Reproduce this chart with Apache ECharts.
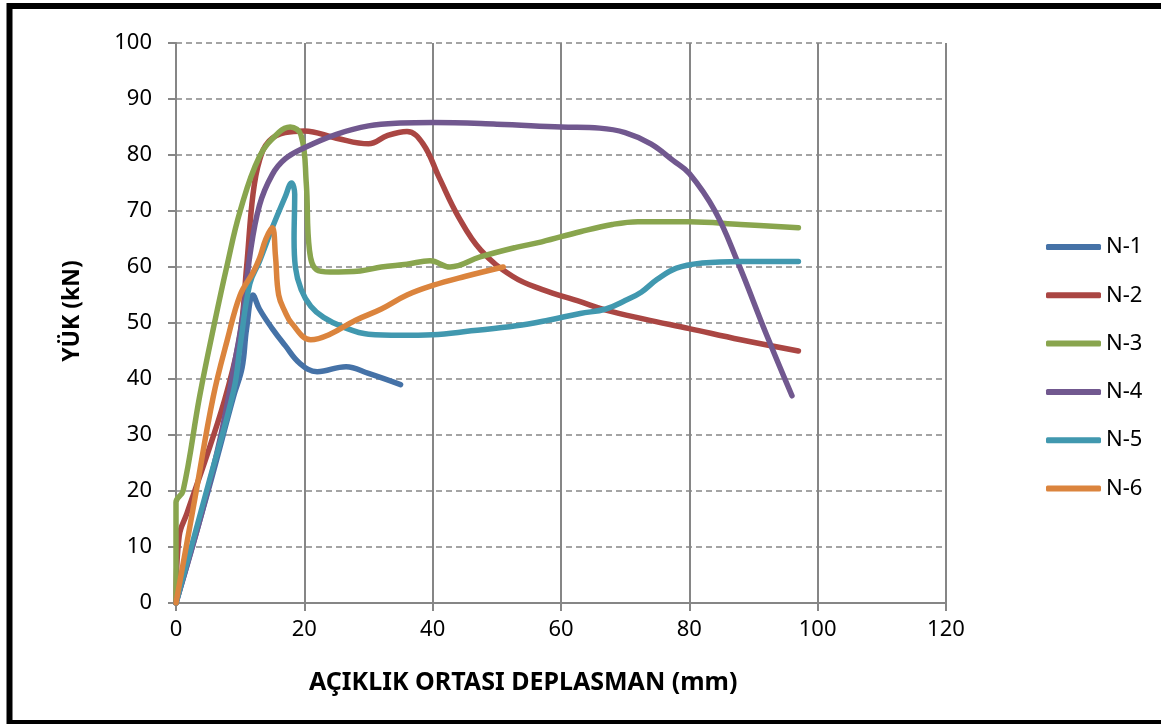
<!DOCTYPE html>
<html>
<head>
<meta charset="utf-8">
<script src="https://cdn.jsdelivr.net/npm/echarts@6/dist/echarts.min.js"></script>
<style>
html,body{margin:0;padding:0;background:#fff;}
#chart{width:1161px;height:724px;}
</style>
</head>
<body>
<div id="chart"></div>
<script>
var seriesNames = ['N-1', 'N-2', 'N-3', 'N-4', 'N-5', 'N-6'];
var xTicks = [0, 20, 40, 60, 80, 100, 120];
var yTicks = [0, 10, 20, 30, 40, 50, 60, 70, 80, 90, 100];

// [deplasman mm, yuk kN]
var n1 = [[0,0],[5,20],[9,37],[10.3,42],[11,49],[12,55],[13,52.5],[15,49],[17,46],[19.3,42.8],[22,41.3],[26.5,42.2],[30,41],[35,39]];
var n2 = [[0,0],[0.5,12],[1.7,16],[5.3,28],[8,38],[10,48],[11,60],[12,73],[13,79],[14.5,82.5],[17,84],[20,84.3],[25,83],[30,82],[33,83.5],[36,84.2],[38.5,82],[41,76],[44,69],[47.5,63],[52.5,58.3],[57,56],[63,53.8],[67,52.3],[73,50.7],[80,49],[88,47],[97,45]];
var n3 = [[0,0],[0,18],[1.1,20],[3.7,37],[6,50],[7.9,60],[10,70],[13,79.7],[16,84],[17.8,85],[19.5,83.5],[20.3,75],[20.8,63],[21.9,59.5],[24,59.1],[28.7,59.3],[32,60],[36,60.5],[39.6,61.1],[42.7,60],[47.4,61.8],[53,63.5],[57,64.5],[63,66.3],[68,67.6],[72,68.1],[80,68.1],[88,67.6],[97,67]];
var n4 = [[0,0],[4,16],[7,30],[9,42],[10.5,52],[11.5,62],[13,71],[15,76.5],[17,79.3],[20,81.3],[25,83.7],[30,85.2],[35,85.7],[40,85.8],[50,85.5],[60,85],[66,84.8],[70,84],[74,82],[77.5,79],[80,76.7],[84,70],[87.5,61],[92,48],[96,37]];
var n5 = [[0,0],[5,21],[9,38],[10,46],[11.5,57],[13,61],[15,67],[17,72.5],[18,75],[18.5,73],[18.4,65],[18.6,60],[19.5,56],[21,53],[23,51],[26,49.3],[30,48],[35,47.8],[40,47.9],[46,48.6],[53,49.5],[58,50.5],[63,51.7],[67,52.5],[70,54],[72.5,55.5],[75,57.8],[78,59.8],[82,60.7],[88,61],[97,61]];
var n6 = [[0,0],[3,19],[5.8,36.8],[8,47],[10,55],[12,59],[13,61.5],[14,65],[15,67],[15.5,62],[16,55],[17,52],[18,50],[21,47],[24,48],[28,50.5],[32,52.5],[36,55],[40,56.7],[45,58.3],[51,60]];

var allData = [n1, n2, n3, n4, n5, n6];
var colors = ['#4572A7', '#AA4643', '#89A54E', '#71588F', '#4198AF', '#DB843D'];

var chart = echarts.init(document.getElementById('chart'));
var series = [];
for (var i = 0; i < seriesNames.length; i++) {
    series.push({
        name: seriesNames[i],
        type: 'line',
        data: allData[i],
        smooth: 0.4,
        symbol: 'none',
        lineStyle: {width: 5.5, color: colors[i], cap: 'round', join: 'round'},
        itemStyle: {color: colors[i]}
    });
}

var option = {
    animation: false,
    backgroundColor: '#fff',
    grid: {left: 176, right: 215, top: 43, bottom: 121},
    legend: {
        orient: 'vertical',
        left: 1041,
        top: 231,
        icon: 'roundRect',
        itemWidth: 55,
        itemHeight: 6,
        itemGap: 26.3,
        data: seriesNames,
        textStyle: {fontSize: 22, lineHeight: 20, color: '#000', fontFamily: 'Noto Sans'}
    },
    xAxis: {
        type: 'value',
        min: 0, max: 120, interval: 20,
        axisLine: {show: true, lineStyle: {color: '#868686', width: 2}},
        axisTick: {show: true, length: 8, lineStyle: {color: '#868686', width: 2}},
        axisLabel: {fontSize: 22, color: '#000', fontFamily: 'Noto Sans', margin: 16},
        splitLine: {show: true, lineStyle: {color: '#868686', width: 2, type: 'solid'}}
    },
    yAxis: {
        type: 'value',
        min: 0, max: 100, interval: 10,
        axisLine: {show: true, lineStyle: {color: '#868686', width: 2}},
        axisTick: {show: true, length: 8, lineStyle: {color: '#868686', width: 2}},
        axisLabel: {fontSize: 22, color: '#000', fontFamily: 'Noto Sans', margin: 24},
        splitLine: {show: true, lineStyle: {color: '#868686', width: 1.5, type: [6, 4]}}
    },
    graphic: [
        {type: 'rect', shape: {x: 9.5, y: 6, width: 1160, height: 717}, style: {fill: 'none', stroke: '#000', lineWidth: 6}, silent: true},
        {type: 'text', left: 309, top: 670, style: {text: 'AÇIKLIK ORTASI DEPLASMAN (mm)', fontSize: 25, fontWeight: 'bold', fontFamily: 'Noto Sans', fill: '#000'}},
        {type: 'text', x: 72, y: 311, rotation: Math.PI / 2, style: {text: 'YÜK (kN)', fontSize: 23, fontWeight: 'bold', fontFamily: 'Noto Sans', fill: '#000', align: 'center', verticalAlign: 'middle'}}
    ],
    series: series
};
chart.setOption(option);
</script>
</body>
</html>
